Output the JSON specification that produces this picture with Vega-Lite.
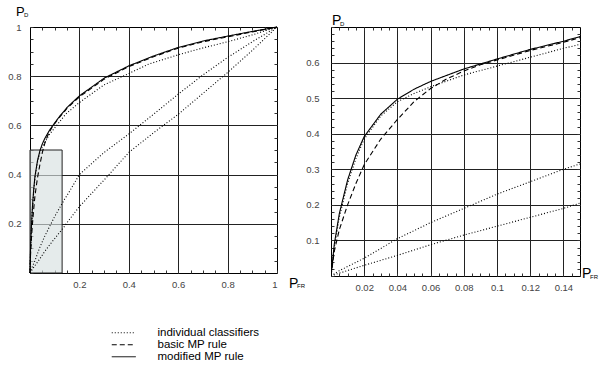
{
  "$schema": "https://vega.github.io/schema/vega-lite/v6.json",
  "background": "white",
  "padding": {"left": 7, "top": 5, "right": 0, "bottom": 0},
  "bounds": "flush",
  "spacing": 54,
  "config": {
    "view": {"stroke": "#000", "strokeWidth": 1},
    "axis": {"labelFont": "Liberation Sans", "labelFontSize": 9.5, "labelColor": "#444", "domain": false, "tickColor": "#333", "tickSize": -3, "tickWidth": 1, "gridColor": "#222", "gridWidth": 1}
  },
  "datasets": {
    "curves": [
      {"id": "m", "type": "modified MP rule", "x": 0, "y": 0},
      {"id": "m", "type": "modified MP rule", "x": 0.002, "y": 0.09},
      {"id": "m", "type": "modified MP rule", "x": 0.005, "y": 0.175},
      {"id": "m", "type": "modified MP rule", "x": 0.01, "y": 0.27},
      {"id": "m", "type": "modified MP rule", "x": 0.015, "y": 0.34},
      {"id": "m", "type": "modified MP rule", "x": 0.02, "y": 0.392},
      {"id": "m", "type": "modified MP rule", "x": 0.03, "y": 0.455},
      {"id": "m", "type": "modified MP rule", "x": 0.04, "y": 0.497},
      {"id": "m", "type": "modified MP rule", "x": 0.05, "y": 0.525},
      {"id": "m", "type": "modified MP rule", "x": 0.06, "y": 0.547},
      {"id": "m", "type": "modified MP rule", "x": 0.08, "y": 0.582},
      {"id": "m", "type": "modified MP rule", "x": 0.1, "y": 0.61},
      {"id": "m", "type": "modified MP rule", "x": 0.12, "y": 0.637},
      {"id": "m", "type": "modified MP rule", "x": 0.14, "y": 0.66},
      {"id": "m", "type": "modified MP rule", "x": 0.15, "y": 0.673},
      {"id": "m", "type": "modified MP rule", "x": 0.2, "y": 0.72},
      {"id": "m", "type": "modified MP rule", "x": 0.3, "y": 0.792},
      {"id": "m", "type": "modified MP rule", "x": 0.4, "y": 0.842},
      {"id": "m", "type": "modified MP rule", "x": 0.5, "y": 0.882},
      {"id": "m", "type": "modified MP rule", "x": 0.6, "y": 0.917},
      {"id": "m", "type": "modified MP rule", "x": 0.7, "y": 0.943},
      {"id": "m", "type": "modified MP rule", "x": 0.8, "y": 0.963},
      {"id": "m", "type": "modified MP rule", "x": 0.9, "y": 0.982},
      {"id": "m", "type": "modified MP rule", "x": 1, "y": 1},
      {"id": "b", "type": "basic MP rule", "x": 0, "y": 0},
      {"id": "b", "type": "basic MP rule", "x": 0.002, "y": 0.07},
      {"id": "b", "type": "basic MP rule", "x": 0.005, "y": 0.13},
      {"id": "b", "type": "basic MP rule", "x": 0.01, "y": 0.2},
      {"id": "b", "type": "basic MP rule", "x": 0.015, "y": 0.26},
      {"id": "b", "type": "basic MP rule", "x": 0.02, "y": 0.313},
      {"id": "b", "type": "basic MP rule", "x": 0.03, "y": 0.385},
      {"id": "b", "type": "basic MP rule", "x": 0.04, "y": 0.44},
      {"id": "b", "type": "basic MP rule", "x": 0.05, "y": 0.49},
      {"id": "b", "type": "basic MP rule", "x": 0.06, "y": 0.527},
      {"id": "b", "type": "basic MP rule", "x": 0.07, "y": 0.555},
      {"id": "b", "type": "basic MP rule", "x": 0.08, "y": 0.576},
      {"id": "b", "type": "basic MP rule", "x": 0.09, "y": 0.594},
      {"id": "b", "type": "basic MP rule", "x": 0.1, "y": 0.607},
      {"id": "b", "type": "basic MP rule", "x": 0.12, "y": 0.634},
      {"id": "b", "type": "basic MP rule", "x": 0.14, "y": 0.657},
      {"id": "b", "type": "basic MP rule", "x": 0.15, "y": 0.67},
      {"id": "b", "type": "basic MP rule", "x": 0.2, "y": 0.716},
      {"id": "b", "type": "basic MP rule", "x": 0.3, "y": 0.788},
      {"id": "b", "type": "basic MP rule", "x": 0.4, "y": 0.839},
      {"id": "b", "type": "basic MP rule", "x": 0.5, "y": 0.879},
      {"id": "b", "type": "basic MP rule", "x": 0.6, "y": 0.914},
      {"id": "b", "type": "basic MP rule", "x": 0.7, "y": 0.94},
      {"id": "b", "type": "basic MP rule", "x": 0.8, "y": 0.96},
      {"id": "b", "type": "basic MP rule", "x": 0.9, "y": 0.98},
      {"id": "b", "type": "basic MP rule", "x": 1, "y": 1},
      {"id": "i1", "type": "individual classifiers", "x": 0, "y": 0},
      {"id": "i1", "type": "individual classifiers", "x": 0.002, "y": 0.08},
      {"id": "i1", "type": "individual classifiers", "x": 0.005, "y": 0.165},
      {"id": "i1", "type": "individual classifiers", "x": 0.01, "y": 0.26},
      {"id": "i1", "type": "individual classifiers", "x": 0.015, "y": 0.33},
      {"id": "i1", "type": "individual classifiers", "x": 0.02, "y": 0.385},
      {"id": "i1", "type": "individual classifiers", "x": 0.03, "y": 0.45},
      {"id": "i1", "type": "individual classifiers", "x": 0.04, "y": 0.49},
      {"id": "i1", "type": "individual classifiers", "x": 0.05, "y": 0.513},
      {"id": "i1", "type": "individual classifiers", "x": 0.06, "y": 0.532},
      {"id": "i1", "type": "individual classifiers", "x": 0.08, "y": 0.565},
      {"id": "i1", "type": "individual classifiers", "x": 0.1, "y": 0.59},
      {"id": "i1", "type": "individual classifiers", "x": 0.12, "y": 0.615},
      {"id": "i1", "type": "individual classifiers", "x": 0.14, "y": 0.64},
      {"id": "i1", "type": "individual classifiers", "x": 0.15, "y": 0.651},
      {"id": "i1", "type": "individual classifiers", "x": 0.2, "y": 0.693},
      {"id": "i1", "type": "individual classifiers", "x": 0.3, "y": 0.765},
      {"id": "i1", "type": "individual classifiers", "x": 0.4, "y": 0.811},
      {"id": "i1", "type": "individual classifiers", "x": 0.48, "y": 0.849},
      {"id": "i1", "type": "individual classifiers", "x": 0.6, "y": 0.887},
      {"id": "i1", "type": "individual classifiers", "x": 0.7, "y": 0.915},
      {"id": "i1", "type": "individual classifiers", "x": 0.8, "y": 0.94},
      {"id": "i1", "type": "individual classifiers", "x": 0.9, "y": 0.968},
      {"id": "i1", "type": "individual classifiers", "x": 1, "y": 1},
      {"id": "i2", "type": "individual classifiers", "x": 0, "y": 0},
      {"id": "i2", "type": "individual classifiers", "x": 0.005, "y": 0.015},
      {"id": "i2", "type": "individual classifiers", "x": 0.02, "y": 0.05},
      {"id": "i2", "type": "individual classifiers", "x": 0.04, "y": 0.105},
      {"id": "i2", "type": "individual classifiers", "x": 0.06, "y": 0.15},
      {"id": "i2", "type": "individual classifiers", "x": 0.08, "y": 0.19},
      {"id": "i2", "type": "individual classifiers", "x": 0.1, "y": 0.23},
      {"id": "i2", "type": "individual classifiers", "x": 0.12, "y": 0.265},
      {"id": "i2", "type": "individual classifiers", "x": 0.14, "y": 0.3},
      {"id": "i2", "type": "individual classifiers", "x": 0.15, "y": 0.315},
      {"id": "i2", "type": "individual classifiers", "x": 0.2, "y": 0.4},
      {"id": "i2", "type": "individual classifiers", "x": 0.3, "y": 0.49},
      {"id": "i2", "type": "individual classifiers", "x": 0.4, "y": 0.565},
      {"id": "i2", "type": "individual classifiers", "x": 0.5, "y": 0.645},
      {"id": "i2", "type": "individual classifiers", "x": 0.6, "y": 0.727},
      {"id": "i2", "type": "individual classifiers", "x": 0.7, "y": 0.805},
      {"id": "i2", "type": "individual classifiers", "x": 0.8, "y": 0.876},
      {"id": "i2", "type": "individual classifiers", "x": 0.9, "y": 0.94},
      {"id": "i2", "type": "individual classifiers", "x": 1, "y": 1},
      {"id": "i3", "type": "individual classifiers", "x": 0, "y": 0},
      {"id": "i3", "type": "individual classifiers", "x": 0.005, "y": 0.008},
      {"id": "i3", "type": "individual classifiers", "x": 0.02, "y": 0.03},
      {"id": "i3", "type": "individual classifiers", "x": 0.04, "y": 0.058},
      {"id": "i3", "type": "individual classifiers", "x": 0.06, "y": 0.088},
      {"id": "i3", "type": "individual classifiers", "x": 0.08, "y": 0.115},
      {"id": "i3", "type": "individual classifiers", "x": 0.1, "y": 0.14},
      {"id": "i3", "type": "individual classifiers", "x": 0.12, "y": 0.165},
      {"id": "i3", "type": "individual classifiers", "x": 0.14, "y": 0.19},
      {"id": "i3", "type": "individual classifiers", "x": 0.15, "y": 0.205},
      {"id": "i3", "type": "individual classifiers", "x": 0.2, "y": 0.27},
      {"id": "i3", "type": "individual classifiers", "x": 0.32, "y": 0.4},
      {"id": "i3", "type": "individual classifiers", "x": 0.4, "y": 0.49},
      {"id": "i3", "type": "individual classifiers", "x": 0.5, "y": 0.57},
      {"id": "i3", "type": "individual classifiers", "x": 0.6, "y": 0.645},
      {"id": "i3", "type": "individual classifiers", "x": 0.7, "y": 0.73},
      {"id": "i3", "type": "individual classifiers", "x": 0.8, "y": 0.815},
      {"id": "i3", "type": "individual classifiers", "x": 0.9, "y": 0.905},
      {"id": "i3", "type": "individual classifiers", "x": 1, "y": 1}
    ]
  },
  "hconcat": [
    {
      "width": 247,
      "height": 246,
      "layer": [
        {
          "data": {"values": [{"x": 0, "x2": 0.13, "y": 0, "y2": 0.5}]},
          "mark": {"type": "rect", "fill": "#d7e1e1", "fillOpacity": 0.65, "stroke": "#222", "strokeWidth": 1},
          "encoding": {
            "x": {"field": "x", "type": "quantitative", "scale": {"domain": [0, 1], "nice": false},
              "axis": {"orient": "bottom", "title": null, "values": [0, 0.05, 0.1, 0.15, 0.2, 0.25, 0.3, 0.35, 0.4, 0.45, 0.5, 0.55, 0.6, 0.65, 0.7, 0.75, 0.8, 0.85, 0.9, 0.95, 1],
                "labelPadding": 9,
                "labelExpr": "abs(datum.value*5-round(datum.value*5))<0.001 && datum.value>0 ? toString(round(datum.value*10)/10) : ''",
                "grid": true,
                "gridOpacity": {"condition": {"test": "abs(datum.value*5-round(datum.value*5))<0.001 && datum.value>0.01 && datum.value<0.99", "value": 1}, "value": 0}}},
            "x2": {"field": "x2"},
            "y": {"field": "y", "type": "quantitative", "scale": {"domain": [0, 1], "nice": false},
              "axis": {"orient": "left", "title": null, "values": [0, 0.05, 0.1, 0.15, 0.2, 0.25, 0.3, 0.35, 0.4, 0.45, 0.5, 0.55, 0.6, 0.65, 0.7, 0.75, 0.8, 0.85, 0.9, 0.95, 1],
                "labelPadding": 12,
                "labelExpr": "abs(datum.value*5-round(datum.value*5))<0.001 && datum.value>0 ? toString(round(datum.value*10)/10) : ''",
                "grid": true,
                "gridOpacity": {"condition": {"test": "abs(datum.value*5-round(datum.value*5))<0.001 && datum.value>0.01 && datum.value<0.99", "value": 1}, "value": 0}}},
            "y2": {"field": "y2"}
          }
        },
        {
          "data": {"name": "curves"},
          "mark": {"type": "line", "stroke": "#000", "strokeWidth": 1.1},
          "encoding": {
            "x": {"field": "x", "type": "quantitative",
              "axis": {"orient": "top", "title": null, "labels": false, "grid": false, "values": [0.05, 0.1, 0.15, 0.2, 0.25, 0.3, 0.35, 0.4, 0.45, 0.5, 0.55, 0.6, 0.65, 0.7, 0.75, 0.8, 0.85, 0.9, 0.95]}},
            "y": {"field": "y", "type": "quantitative",
              "axis": {"orient": "right", "title": null, "labels": false, "grid": false, "values": [0.05, 0.1, 0.15, 0.2, 0.25, 0.3, 0.35, 0.4, 0.45, 0.5, 0.55, 0.6, 0.65, 0.7, 0.75, 0.8, 0.85, 0.9, 0.95]}},
            "detail": {"field": "id"},
            "strokeDash": {"field": "type", "type": "nominal",
              "scale": {"domain": ["individual classifiers", "basic MP rule", "modified MP rule"], "range": [[1, 2], [5, 3], [1, 0]]},
              "legend": {"orient": "none", "legendX": 88, "legendY": 300, "title": null, "symbolType": "M-3,0H3", "symbolSize": 64, "symbolStrokeColor": "#000", "symbolFillColor": "transparent", "symbolStrokeWidth": 1, "labelFont": "Liberation Sans", "labelFontSize": 11.5, "labelColor": "#000", "labelOffset": 28, "rowPadding": -2.5}}
          }
        },
        {
          "data": {"values": [{}]},
          "mark": {"type": "text", "text": "P", "font": "Liberation Sans", "fontSize": 13, "align": "left", "baseline": "alphabetic", "dx": -14, "dy": -11},
          "encoding": {"x": {"datum": 0, "type": "quantitative", "axis": null}, "y": {"datum": 1, "type": "quantitative", "axis": null}}
        },
        {
          "data": {"values": [{}]},
          "mark": {"type": "text", "text": "D", "font": "Liberation Sans", "fontSize": 6, "align": "left", "baseline": "alphabetic", "dx": -6, "dy": -10},
          "encoding": {"x": {"datum": 0, "type": "quantitative", "axis": null}, "y": {"datum": 1, "type": "quantitative", "axis": null}}
        },
        {
          "data": {"values": [{}]},
          "mark": {"type": "text", "text": "P", "font": "Liberation Sans", "fontSize": 14, "align": "left", "baseline": "alphabetic", "dx": 12, "dy": 15},
          "encoding": {"x": {"datum": 1, "type": "quantitative", "axis": null}, "y": {"datum": 0, "type": "quantitative", "axis": null}}
        },
        {
          "data": {"values": [{}]},
          "mark": {"type": "text", "text": "FR", "font": "Liberation Sans", "fontSize": 6, "align": "left", "baseline": "alphabetic", "dx": 20, "dy": 15},
          "encoding": {"x": {"datum": 1, "type": "quantitative", "axis": null}, "y": {"datum": 0, "type": "quantitative", "axis": null}}
        }
      ],
      "resolve": {"axis": {"x": "independent", "y": "independent"}}
    },
    {
      "width": 249,
      "height": 249,
      "layer": [
        {
          "data": {"name": "curves"},
          "mark": {"type": "line", "stroke": "#000", "strokeWidth": 1.1, "clip": true},
          "encoding": {
            "x": {"field": "x", "type": "quantitative", "scale": {"domain": [0, 0.15], "nice": false},
              "axis": {"orient": "bottom", "title": null, "values": [0, 0.005, 0.01, 0.015, 0.02, 0.025, 0.03, 0.035, 0.04, 0.045, 0.05, 0.055, 0.06, 0.065, 0.07, 0.075, 0.08, 0.085, 0.09, 0.095, 0.1, 0.105, 0.11, 0.115, 0.12, 0.125, 0.13, 0.135, 0.14, 0.145, 0.15],
                "labelPadding": 9,
                "labelExpr": "abs(datum.value*50-round(datum.value*50))<0.001 && datum.value>0.001 && datum.value<0.149 ? toString(round(datum.value*100)/100) : ''",
                "grid": true,
                "gridOpacity": {"condition": {"test": "abs(datum.value*50-round(datum.value*50))<0.001 && datum.value>0.001 && datum.value<0.149", "value": 1}, "value": 0}}},
            "y": {"field": "y", "type": "quantitative", "scale": {"domain": [0, 0.7], "nice": false},
              "axis": {"orient": "left", "title": null, "values": [0, 0.02, 0.04, 0.06, 0.08, 0.1, 0.12, 0.14, 0.16, 0.18, 0.2, 0.22, 0.24, 0.26, 0.28, 0.3, 0.32, 0.34, 0.36, 0.38, 0.4, 0.42, 0.44, 0.46, 0.48, 0.5, 0.52, 0.54, 0.56, 0.58, 0.6, 0.62, 0.64, 0.66, 0.68, 0.7],
                "labelPadding": 15,
                "labelExpr": "abs(datum.value*10-round(datum.value*10))<0.001 && datum.value>0.01 && datum.value<0.65 ? toString(round(datum.value*10)/10) : ''",
                "grid": true,
                "gridOpacity": {"condition": {"test": "abs(datum.value*10-round(datum.value*10))<0.001 && datum.value>0.01 && datum.value<0.65", "value": 1}, "value": 0}}},
            "detail": {"field": "id"},
            "strokeDash": {"field": "type", "type": "nominal",
              "scale": {"domain": ["individual classifiers", "basic MP rule", "modified MP rule"], "range": [[1, 2], [5, 3], [1, 0]]},
              "legend": null}
          }
        },
        {
          "data": {"values": [{}]},
          "mark": {"type": "text", "text": "P", "font": "Liberation Sans", "fontSize": 14, "align": "left", "baseline": "alphabetic", "dx": 1, "dy": -2},
          "encoding": {
            "x": {"datum": 0, "type": "quantitative",
              "axis": {"orient": "top", "title": null, "labels": false, "grid": false, "values": [0.005, 0.01, 0.015, 0.02, 0.025, 0.03, 0.035, 0.04, 0.045, 0.05, 0.055, 0.06, 0.065, 0.07, 0.075, 0.08, 0.085, 0.09, 0.095, 0.1, 0.105, 0.11, 0.115, 0.12, 0.125, 0.13, 0.135, 0.14, 0.145]}},
            "y": {"datum": 0.7, "type": "quantitative",
              "axis": {"orient": "right", "title": null, "labels": false, "grid": false, "values": [0.02, 0.04, 0.06, 0.08, 0.1, 0.12, 0.14, 0.16, 0.18, 0.2, 0.22, 0.24, 0.26, 0.28, 0.3, 0.32, 0.34, 0.36, 0.38, 0.4, 0.42, 0.44, 0.46, 0.48, 0.5, 0.52, 0.54, 0.56, 0.58, 0.6, 0.62, 0.64, 0.66, 0.68]}}
          }
        },
        {
          "data": {"values": [{}]},
          "mark": {"type": "text", "text": "D", "font": "Liberation Sans", "fontSize": 6, "align": "left", "baseline": "alphabetic", "dx": 9, "dy": -1},
          "encoding": {"x": {"datum": 0, "type": "quantitative", "axis": null}, "y": {"datum": 0.7, "type": "quantitative", "axis": null}}
        },
        {
          "data": {"values": [{}]},
          "mark": {"type": "text", "text": "P", "font": "Liberation Sans", "fontSize": 14, "align": "left", "baseline": "alphabetic", "dx": 2, "dy": 2},
          "encoding": {"x": {"datum": 0.15, "type": "quantitative", "axis": null}, "y": {"datum": 0, "type": "quantitative", "axis": null}}
        },
        {
          "data": {"values": [{}]},
          "mark": {"type": "text", "text": "FR", "font": "Liberation Sans", "fontSize": 6, "align": "left", "baseline": "alphabetic", "dx": 10, "dy": 3},
          "encoding": {"x": {"datum": 0.15, "type": "quantitative", "axis": null}, "y": {"datum": 0, "type": "quantitative", "axis": null}}
        }
      ],
      "resolve": {"axis": {"x": "independent", "y": "independent"}}
    }
  ],
  "resolve": {"legend": {"strokeDash": "independent"}}
}
